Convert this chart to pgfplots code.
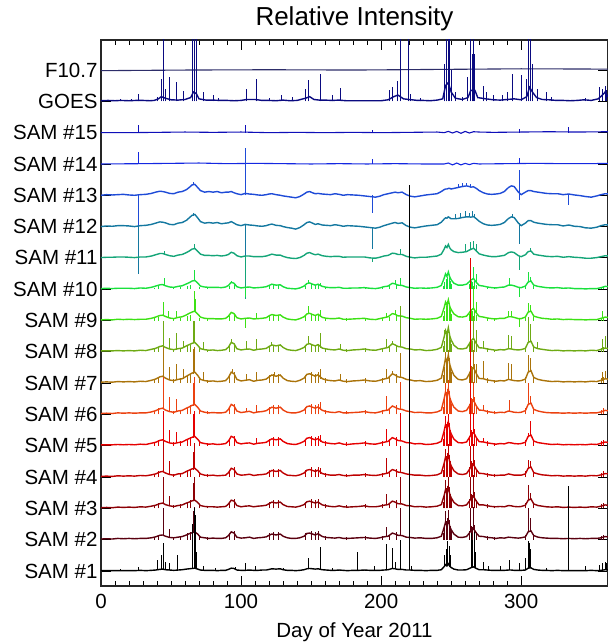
\documentclass[border=0pt]{standalone}
\usepackage{pgfplots}
\pgfplotsset{compat=1.18}
\usepackage{pgfplotstable}
\usepackage{fontspec}
\setmainfont{Liberation Sans}
\definecolor{cF}{RGB}{45,45,105}
\definecolor{cG}{RGB}{10,10,128}
\definecolor{c15}{RGB}{15,15,185}
\definecolor{c14}{RGB}{20,40,225}
\definecolor{c13}{RGB}{30,75,215}
\definecolor{c12}{RGB}{20,120,160}
\definecolor{c11}{RGB}{20,165,120}
\definecolor{c10}{RGB}{25,225,60}
\definecolor{c9}{RGB}{60,225,20}
\definecolor{c8}{RGB}{110,170,20}
\definecolor{c7}{RGB}{170,115,10}
\definecolor{c6}{RGB}{235,65,15}
\definecolor{c5}{RGB}{230,0,0}
\definecolor{c4}{RGB}{190,0,0}
\definecolor{c3}{RGB}{140,0,5}
\definecolor{c2}{RGB}{90,0,15}
\definecolor{c1}{RGB}{0,0,0}
\newcommand{\spk}[2]{\addplot[draw=none, mark=none, forget plot, error bars/.cd, y dir=plus, y explicit, error mark=none, error bar style={draw=#1, line width=1pt, solid}] coordinates {#2};}
\newcommand{\dip}[2]{\addplot[draw=none, mark=none, forget plot, error bars/.cd, y dir=minus, y explicit, error mark=none, error bar style={draw=#1, line width=1pt, solid}] coordinates {#2};}
\newcommand{\exs}[3]{\addplot[draw=none, mark=none, forget plot, error bars/.cd, y dir=plus, y explicit, error mark=none, error bar style={draw=#1, line width=1pt, solid}] table[x=d, y expr=#2, y error=#3] {\ex};}
\pgfplotstableread{
d h10 h9 h8 h7 h6 h5 h4 h3 h2
38 .05 .07 .08 .12 .11 .11 .11 .10 .10
41 .09 .12 .14 .20 .19 .18 .18 .17 .16
52 .05 .07 .08 .12 .11 .11 .11 .10 .10
57 .07 .09 .11 .15 .14 .14 .14 .13 .12
62 .11 .15 .18 .25 .24 .23 .23 .21 .20
64 .14 .18 .21 .30 .29 .27 .27 .26 .24
70 .07 .09 .11 .15 .14 .14 .14 .13 .12
76 .05 .06 .07 .10 .10 .09 .09 .09 .08
92 .11 .15 .18 .25 .24 .23 .23 .21 .20
95 .16 .21 .25 .35 .33 .32 .32 .30 .28
120 .11 .15 .18 .25 .24 .23 .23 .21 .20
123 .14 .18 .21 .30 .29 .27 .27 .26 .24
127 .14 .18 .21 .30 .29 .27 .27 .26 .24
146 .11 .15 .18 .25 .24 .23 .23 .21 .20
150 .16 .21 .25 .35 .33 .32 .32 .30 .28
153 .14 .18 .21 .30 .29 .27 .27 .26 .24
155 .16 .21 .25 .35 .33 .32 .32 .30 .28
160 .07 .09 .11 .15 .14 .14 .14 .13 .12
175 .05 .07 .08 .12 .11 .11 .11 .10 .10
189 .07 .09 .11 .15 .14 .14 .14 .13 .12
201 .07 .09 .11 .15 .14 .14 .14 .13 .12
206 .09 .12 .14 .20 .19 .18 .18 .17 .16
211 .14 .18 .21 .30 .29 .27 .27 .26 .24
244.5 .11 .15 .18 .25 .24 .23 .23 .21 .20
245.5 .23 .30 .35 .50 .48 .45 .45 .43 .40
246.5 .34 .45 .53 .75 .71 .68 .68 .64 .60
247.5 .38 .51 .60 .85 .81 .77 .77 .72 .68
248.5 .36 .48 .56 .80 .76 .72 .72 .68 .64
249.5 .25 .33 .39 .55 .52 .50 .50 .47 .44
250.5 .16 .21 .25 .35 .33 .32 .32 .30 .28
263 .16 .21 .25 .35 .33 .32 .32 .30 .28
264.5 .25 .33 .39 .55 .52 .50 .50 .47 .44
265 .23 .30 .35 .50 .48 .45 .45 .43 .40
266.5 .27 .36 .42 .60 .57 .54 .54 .51 .48
267 .20 .27 .32 .45 .43 .41 .41 .38 .36
268 .14 .18 .21 .30 .29 .27 .27 .26 .24
276 .07 .09 .11 .15 .14 .14 .14 .13 .12
281 .05 .06 .07 .10 .10 .09 .09 .09 .08
303 .09 .12 .14 .20 .19 .18 .18 .17 .16
309 .09 .12 .14 .20 .19 .18 .18 .17 .16
357 .07 .09 .11 .15 .14 .14 .14 .13 .12
359 .09 .12 .14 .20 .19 .18 .18 .17 .16
}\ex
\pgfplotstableread{
d s13 s12 s11 s10 s9 s8 s7 s6 s5 s4 s3 s2 s1
0 0 .00 .01 .02 .02 .03 .03 .03 .03 .02 .02 .02 .01
4 .02 .02 .02 .03 .03 .03 .04 .04 .03 .03 .03 .03 .01
8 .01 .01 .02 .02 .02 .03 .03 .03 .03 .02 .02 .02 .01
12 .02 .03 .03 .03 .04 .04 .05 .05 .04 .04 .04 .04 .01
16 .03 .03 .03 .03 .03 .03 .04 .04 .03 .03 .03 .03 .01
20 .01 .02 .02 .03 .04 .04 .05 .05 .04 .04 .04 .04 .01
24 0 .00 .01 .02 .03 .03 .04 .04 .03 .03 .03 .03 .01
28 .02 .03 .03 .04 .04 .05 .06 .05 .05 .05 .05 .04 .02
32 .03 .04 .03 .03 .04 .04 .05 .05 .04 .04 .04 .04 .01
36 .06 .07 .06 .06 .07 .08 .09 .08 .08 .07 .07 .06 .02
39 .10 .11 .10 .10 .11 .11 .13 .12 .11 .10 .10 .09 .03
42 .13 .15 .14 .14 .16 .17 .20 .18 .17 .16 .15 .14 .05
44 .12 .14 .14 .15 .17 .19 .22 .20 .19 .18 .17 .15 .06
46 .10 .12 .11 .11 .13 .14 .16 .14 .14 .13 .12 .11 .04
49 .06 .07 .07 .07 .08 .09 .10 .09 .09 .08 .08 .07 .03
52 .05 .06 .05 .06 .06 .07 .08 .07 .07 .06 .06 .06 .02
55 .10 .11 .09 .09 .10 .10 .12 .11 .10 .10 .09 .08 .03
58 .12 .13 .11 .11 .12 .12 .14 .13 .12 .11 .11 .10 .04
61 .18 .20 .17 .17 .18 .19 .22 .20 .19 .18 .17 .15 .06
63 .25 .28 .22 .21 .23 .23 .27 .24 .23 .22 .20 .19 .07
65 .33 .36 .28 .26 .27 .27 .32 .29 .27 .26 .24 .22 .08
67 .35 .39 .30 .28 .30 .30 .35 .32 .30 .28 .26 .25 .09
69 .25 .28 .21 .20 .21 .21 .25 .23 .21 .20 .19 .18 .06
71 .15 .16 .12 .10 .11 .10 .12 .11 .10 .10 .09 .08 .03
74 .10 .11 .08 .07 .07 .07 .08 .07 .07 .06 .06 .06 .02
77 .12 .13 .08 .06 .06 .05 .06 .05 .05 .05 .05 .04 .02
80 .10 .11 .07 .06 .06 .06 .07 .06 .06 .06 .05 .05 .02
83 .12 .13 .08 .06 .05 .04 .05 .05 .04 .04 .04 .04 .01
86 .08 .09 .06 .05 .05 .05 .06 .05 .05 .05 .05 .04 .02
89 .10 .11 .08 .07 .07 .07 .08 .07 .07 .06 .06 .06 .02
91 .10 .12 .11 .12 .14 .15 .18 .16 .15 .14 .14 .13 .05
93 .12 .16 .18 .22 .26 .30 .35 .32 .30 .28 .26 .25 .09
95 .08 .11 .15 .19 .22 .26 .30 .27 .26 .24 .23 .21 .08
97 .05 .06 .07 .08 .09 .10 .12 .11 .10 .10 .09 .08 .03
100 .02 .03 .03 .04 .05 .06 .07 .06 .06 .06 .05 .05 .02
103 .06 .07 .06 .06 .07 .08 .09 .08 .08 .07 .07 .06 .02
106 .04 .05 .06 .07 .08 .09 .11 .10 .09 .09 .08 .08 .03
109 .03 .04 .04 .04 .05 .05 .06 .05 .05 .05 .05 .04 .02
112 .01 .02 .04 .05 .06 .08 .09 .08 .08 .07 .07 .06 .02
115 0 .01 .04 .06 .07 .09 .10 .09 .09 .08 .08 .07 .03
118 .02 .03 .06 .08 .09 .11 .13 .12 .11 .10 .10 .09 .03
120 .04 .06 .09 .12 .15 .17 .20 .18 .17 .16 .15 .14 .05
122 .05 .08 .12 .16 .19 .22 .26 .23 .22 .21 .20 .18 .07
125 .02 .04 .09 .13 .16 .19 .22 .20 .19 .18 .17 .15 .06
128 0 .03 .09 .14 .18 .22 .26 .23 .22 .21 .20 .18 .07
130 -.02 0 .05 .08 .11 .14 .16 .14 .14 .13 .12 .11 .04
133 -.04 -.03 .01 .03 .05 .07 .08 .07 .07 .06 .06 .06 .02
136 -.06 -.05 -.01 .02 .03 .05 .06 .05 .05 .05 .05 .04 .02
139 -.08 -.08 -.02 .01 .02 .04 .05 .05 .04 .04 .04 .04 .01
142 -.04 -.03 .01 .04 .06 .08 .09 .08 .08 .07 .07 .06 .02
145 .04 .06 .08 .10 .12 .14 .16 .14 .14 .13 .12 .11 .04
147 .10 .13 .15 .18 .21 .24 .28 .25 .24 .22 .21 .20 .07
149 .12 .15 .17 .20 .23 .26 .30 .27 .26 .24 .23 .21 .08
151 .08 .11 .13 .16 .19 .22 .26 .23 .22 .21 .20 .18 .07
153 .05 .07 .10 .13 .16 .19 .22 .20 .19 .18 .17 .15 .06
155 .06 .09 .12 .16 .20 .23 .27 .24 .23 .22 .20 .19 .07
158 .04 .05 .07 .09 .10 .12 .14 .13 .12 .11 .11 .10 .04
161 .03 .04 .05 .06 .07 .09 .10 .09 .09 .08 .08 .07 .03
164 .02 .03 .04 .05 .06 .07 .08 .07 .07 .06 .06 .06 .02
167 .05 .06 .05 .05 .06 .06 .07 .06 .06 .06 .05 .05 .02
170 .03 .04 .05 .06 .08 .09 .10 .09 .09 .08 .08 .07 .03
173 0 .01 .02 .03 .04 .05 .06 .05 .05 .05 .05 .04 .02
176 .02 .03 .03 .03 .04 .04 .05 .05 .04 .04 .04 .04 .01
180 .01 .02 .03 .04 .05 .06 .07 .06 .06 .06 .05 .05 .02
184 0 .01 .03 .04 .06 .07 .08 .07 .07 .06 .06 .06 .02
188 -.02 -.01 .03 .05 .07 .09 .10 .09 .09 .08 .08 .07 .03
192 -.04 -.03 .00 .03 .04 .06 .07 .06 .06 .06 .05 .05 .02
196 -.06 -.05 -.01 .02 .03 .05 .06 .05 .05 .05 .05 .04 .02
199 -.03 -.02 .02 .04 .06 .08 .09 .08 .08 .07 .07 .06 .02
202 .02 .03 .06 .08 .09 .11 .13 .12 .11 .10 .10 .09 .03
205 .05 .07 .08 .10 .12 .14 .16 .14 .14 .13 .12 .11 .04
208 .08 .11 .15 .19 .22 .26 .30 .27 .26 .24 .23 .21 .08
210 .10 .13 .14 .17 .20 .22 .26 .23 .22 .21 .20 .18 .07
212 .08 .10 .11 .13 .15 .17 .20 .18 .17 .16 .15 .14 .05
215 .10 .12 .11 .12 .14 .15 .18 .16 .15 .14 .14 .13 .05
218 .02 .03 .05 .07 .09 .10 .12 .11 .10 .10 .09 .08 .03
221 -.03 -.02 .02 .05 .07 .09 .10 .09 .09 .08 .08 .07 .03
224 -.05 -.04 .00 .03 .04 .06 .07 .06 .06 .06 .05 .05 .02
228 -.02 -.01 .02 .04 .05 .07 .08 .07 .07 .06 .06 .06 .02
232 .01 .02 .02 .03 .04 .04 .05 .05 .04 .04 .04 .04 .01
236 .03 .04 .04 .04 .05 .05 .06 .05 .05 .05 .05 .04 .02
240 .05 .06 .06 .06 .07 .08 .09 .08 .08 .07 .07 .06 .02
243 .12 .14 .12 .12 .13 .14 .16 .14 .14 .13 .12 .11 .04
245 .18 .24 .28 .35 .41 .47 .55 .50 .47 .44 .41 .39 .14
246 .20 .28 .38 .49 .59 .68 .80 .72 .68 .64 .60 .56 .20
247 .20 .27 .33 .41 .49 .55 .65 .59 .55 .52 .49 .46 .16
248 .22 .31 .43 .55 .66 .77 .90 .81 .77 .72 .68 .63 .23
249 .22 .28 .32 .39 .45 .51 .60 .54 .51 .48 .45 .42 .15
250 .20 .25 .26 .30 .35 .38 .45 .41 .38 .36 .34 .32 .11
252 .22 .25 .20 .19 .21 .21 .25 .23 .21 .20 .19 .18 .06
255 .25 .26 .17 .13 .12 .10 .12 .11 .10 .10 .09 .08 .03
258 .28 .29 .18 .13 .11 .09 .10 .09 .09 .08 .08 .07 .03
261 .30 .31 .20 .16 .14 .12 .14 .13 .12 .11 .11 .10 .04
263 .28 .31 .25 .24 .25 .26 .30 .27 .26 .24 .23 .21 .08
264 .26 .30 .27 .29 .32 .34 .40 .36 .34 .32 .30 .28 .10
266 .27 .32 .31 .34 .39 .43 .50 .45 .43 .40 .38 .35 .13
268 .22 .25 .22 .22 .24 .26 .30 .27 .26 .24 .23 .21 .08
270 .15 .17 .13 .12 .13 .13 .15 .14 .13 .12 .11 .11 .04
273 .08 .09 .09 .10 .11 .12 .14 .13 .12 .11 .11 .10 .04
276 .04 .05 .06 .07 .08 .09 .10 .09 .09 .08 .08 .07 .03
279 .03 .04 .04 .05 .06 .07 .08 .07 .07 .06 .06 .06 .02
282 .04 .05 .04 .04 .05 .05 .06 .05 .05 .05 .05 .04 .02
285 .06 .07 .06 .06 .07 .07 .08 .07 .07 .06 .06 .06 .02
288 .12 .13 .08 .07 .07 .06 .07 .06 .06 .06 .05 .05 .02
291 .25 .26 .17 .13 .12 .10 .12 .11 .10 .10 .09 .08 .03
293 .30 .31 .19 .13 .12 .09 .10 .09 .09 .08 .08 .07 .03
295 .28 .29 .17 .11 .10 .07 .08 .07 .07 .06 .06 .06 .02
298 .10 .11 .07 .06 .06 .06 .07 .06 .06 .06 .05 .05 .02
300 .02 .03 .04 .05 .06 .07 .08 .07 .07 .06 .06 .06 .02
303 .10 .11 .10 .10 .11 .11 .13 .12 .11 .10 .10 .09 .03
305 .15 .19 .20 .23 .27 .30 .35 .32 .30 .28 .26 .25 .09
307 .15 .19 .22 .26 .30 .34 .40 .36 .34 .32 .30 .28 .10
309 .12 .14 .12 .13 .14 .15 .18 .16 .15 .14 .14 .13 .05
312 .10 .11 .09 .09 .10 .10 .12 .11 .10 .10 .09 .08 .03
315 .08 .09 .07 .07 .07 .08 .09 .08 .08 .07 .07 .06 .02
318 .06 .07 .05 .05 .06 .06 .07 .06 .06 .06 .05 .05 .02
322 .05 .06 .04 .04 .04 .04 .05 .05 .04 .04 .04 .04 .01
326 .05 .06 .05 .05 .05 .05 .06 .05 .05 .05 .05 .04 .02
330 .02 .02 .02 .03 .03 .03 .04 .04 .03 .03 .03 .03 .01
334 .04 .05 .04 .04 .04 .04 .05 .05 .04 .04 .04 .04 .01
338 .01 .01 .02 .02 .03 .03 .04 .04 .03 .03 .03 .03 .01
342 -.01 .00 .01 .02 .03 .04 .05 .05 .04 .04 .04 .04 .01
346 -.04 -.04 -.01 .01 .02 .03 .04 .04 .03 .03 .03 .03 .01
350 -.06 -.05 -.01 .02 .03 .05 .06 .05 .05 .05 .05 .04 .02
354 -.02 -.02 .01 .02 .03 .04 .05 .05 .04 .04 .04 .04 .01
357 .02 .03 .04 .05 .07 .08 .09 .08 .08 .07 .07 .06 .02
360 .05 .06 .07 .09 .11 .12 .14 .13 .12 .11 .11 .10 .04
363 .04 .05 .06 .08 .09 .10 .12 .11 .10 .10 .09 .08 .03
}\bg
\begin{document}
\begin{tikzpicture}
\begin{axis}[
  scale only axis, width=507pt, height=546pt,
  xmin=0, xmax=362, ymin=0.52, ymax=17.96,
  xtick={0,100,200,300}, minor x tick num=9,
  ytick={1,...,17},
  yticklabels={SAM \#1,SAM \#2,SAM \#3,SAM \#4,SAM \#5,SAM \#6,SAM \#7,SAM \#8,SAM \#9,SAM \#10,SAM \#11,SAM \#12,SAM \#13,SAM \#14,SAM \#15,GOES,F10.7},
  tick align=inside, major tick length=10pt, minor tick length=5pt,
  tick style={black, line width=0.9pt},
  axis line style={line width=1.2pt, black!85},
  /pgf/number format/assume math mode=true,
  tick label style={font=\fontsize{20.5}{24}\selectfont},
  xticklabel style={yshift=-5pt},
  label style={font=\fontsize{20.5}{24}\selectfont},
  xlabel style={yshift=-7pt},
  title style={font=\fontsize{26}{30}\selectfont},
  title={Relative Intensity},
  xlabel={Day of Year 2011},
  every axis plot/.append style={line width=1.4pt},
  clip=true,
]
\coordinate (ll) at (rel axis cs:0,0);
% F10.7
\addplot[cF, line width=1.1pt] coordinates {(0,16.98)(60,17)(120,17.01)(180,17)(240,17.02)(300,17.04)(362,17.03)};
% GOES
\addplot[cG] coordinates {(0,16.02)(5,16.03)(10,16.02)(14,16.03)(20,16.02)(25,16.03)(30,16.03)(35,16.02)(38,16.03)(41,16.08)(43,16.15)(46,16.1)(50,16.05)(55,16.04)(60,16.06)(64,16.12)(66,16.3)(68,16.25)(70,16.08)(75,16.04)(80,16.04)(85,16.03)(90,16.03)(95,16.02)(100,16.03)(104,16.06)(110,16.06)(115,16.03)(120,16.03)(125,16.02)(130,16.04)(135,16.02)(140,16.03)(146,16.1)(149,16.15)(152,16.06)(156,16.04)(160,16.04)(165,16.03)(170,16.04)(175,16.02)(180,16.02)(185,16.02)(190,16.02)(195,16.02)(200,16.02)(205,16.05)(209,16.15)(212,16.2)(216,16.08)(222,16.05)(226,16.03)(230,16.03)(235,16.02)(240,16.04)(244,16.08)(246,16.5)(248,16.6)(250,16.3)(253,16.1)(258,16.06)(262,16.12)(264,16.35)(267,16.35)(269,16.12)(272,16.1)(275,16.08)(280,16.05)(285,16.04)(290,16.06)(295,16.08)(300,16.05)(304,16.15)(306,16.45)(308,16.3)(311,16.12)(315,16.06)(320,16.05)(325,16.03)(330,16.03)(335,16.02)(340,16.03)(345,16.05)(350,16.03)(355,16.08)(358,16.2)(360,16.3)(362,16.15)};
\spk{cG}{(14,16)+-(0,.08)(22,16)+-(0,.07)(27,16)+-(0,.25)(40,16)+-(0,.15)(43,16)+-(0,.7)(44.5,16)+-(0,3)(46,16)+-(0,.4)(48.6,16)+-(0,.78)(54,16)+-(0,.62)(59,16)+-(0,.32)(65.5,16)+-(0,3)(67,16)+-(0,3)(68,16)+-(0,3)(73,16)+-(0,.3)(80,16)+-(0,.2)(84,16)+-(0,.12)(104,16)+-(0,.4)(111,16)+-(0,.7)(120,16)+-(0,.12)(129,16)+-(0,.2)(137,16)+-(0,.15)(146,16)+-(0,.4)(148,16)+-(0,.67)(157,16)+-(0,.88)(165,16)+-(0,.2)(171,16)+-(0,.44)(206,16)+-(0,.35)(208,16)+-(0,.45)(212,16)+-(0,.65)(214,16)+-(0,3)(219.5,16)+-(0,3)(221,16)+-(0,.25)(228,16)+-(0,.12)(245.5,16)+-(0,1.2)(247,16)+-(0,3)(248,16)+-(0,3)(249,16)+-(0,3)(250,16)+-(0,1)(253,16)+-(0,.3)(258,16)+-(0,.15)(262,16)+-(0,.78)(264,16)+-(0,3)(265,16)+-(0,1.5)(266,16)+-(0,3)(267,16)+-(0,1.5)(273,16)+-(0,.5)(275,16)+-(0,.3)(280,16)+-(0,.2)(287,16)+-(0,.2)(290,16)+-(0,.3)(294,16)+-(0,.88)(300,16)+-(0,.83)(304,16)+-(0,.7)(305,16)+-(0,3)(306.5,16)+-(0,3)(308,16)+-(0,1.2)(312,16)+-(0,.4)(318,16)+-(0,.3)(322,16)+-(0,.15)(346,16)+-(0,.1)(356,16)+-(0,.45)(358,16)+-(0,.4)(360,16)+-(0,.5)(361,16)+-(0,.35)}
% SAM 15
\addplot[c15, line width=1.1pt] coordinates {(0,15)(20,15)(40,15.01)(60,15.02)(80,15.01)(100,15.02)(120,15)(140,15.01)(160,15)(180,15.01)(200,15)(220,15.01)(240,15.02)(245,15)(248,15.04)(251,14.99)(254,15.04)(257,14.98)(260,15.04)(263,14.99)(266,15.03)(270,15.02)(280,15.01)(300,15.02)(320,15.03)(340,15.02)(362,15.03)};
\spk{c15}{(27,15)+-(0,.26)(103,15)+-(0,.25)(193.5,15)+-(0,.1)(298.5,15)+-(0,.12)(334,15)+-(0,.18)}
% SAM 14
\addplot[c14, line width=1.1pt] coordinates {(0,14)(30,14.01)(50,14.02)(70,14.03)(90,14.01)(110,14.02)(130,14.01)(150,14)(170,14.01)(190,14)(210,14.01)(230,14)(245,14)(248,14.03)(251,13.97)(254,14.03)(257,13.97)(260,14.02)(263,13.98)(266,14.02)(270,14)(290,14.01)(310,14.02)(330,14.01)(350,14.01)(362,14.02)};
\spk{c14}{(27,14)+-(0,.38)(103,14)+-(0,.5)(193.5,14)+-(0,.15)(298.5,14)+-(0,.18)}
% SAM 13
\addplot[c13] table[x=d, y expr=\thisrow{s13}+13] {\bg};
\spk{c13}{(103,13)+-(0,1.5)(298.5,13.1)+-(0,.7)(255,13.25)+-(0,.12)(258,13.28)+-(0,.12)(261,13.3)+-(0,.1)(264,13.26)+-(0,.1)(66,13.35)+-(0,.08)}
\dip{c13}{(27,13)+-(0,1.25)(193.5,13)+-(0,.55)(334,13.04)+-(0,.35)(298.5,13.1)+-(0,.25)}
% SAM 12
\addplot[c12] table[x=d, y expr=\thisrow{s12}+12] {\bg};
\spk{c12}{(66,12.35)+-(0,.1)(253,12.25)+-(0,.15)(257,12.28)+-(0,.17)(260,12.3)+-(0,.2)(263,12.31)+-(0,.14)(265,12.31)+-(0,.19)(267,12.28)+-(0,.12)(294,12.3)+-(0,.1)}
\dip{c12}{(27,12)+-(0,1.5)(103,12.06)+-(0,1.06)(193.5,11.97)+-(0,.7)(298.5,12.1)+-(0,.65)}
% SAM 11
\addplot[c11] table[x=d, y expr=\thisrow{s11}+11] {\bg};
\spk{c11}{(45,11.14)+-(0,.08)(66.5,11.3)+-(0,.15)(148,11.15)+-(0,.05)(214,11.1)+-(0,.2)(260,11.2)+-(0,.25)(264,11.27)+-(0,.23)(266,11.31)+-(0,.24)(268,11.22)+-(0,.23)(307,11.22)+-(0,.1)}
\dip{c11}{(103,11.06)+-(0,1.36)(298.5,11.07)+-(0,.45)(193.5,11)+-(0,.12)}
% SAM 10
\addplot[c10] table[x=d, y expr=\thisrow{s10}+10] {\bg};
\exs{c10}{10}{h10}
\spk{c10}{(45,10.15)+-(0,.2)(66.5,10.28)+-(0,.32)(93,10.22)+-(0,.05)(148,10.2)+-(0,.08)(157,10.1)+-(0,.1)(210,10.17)+-(0,.13)(214,10.12)+-(0,.23)(220,10.05)+-(0,.25)(264,10.29)+-(0,.46)(266,10.34)+-(0,.36)(268,10.22)+-(0,.28)(292,10.13)+-(0,.22)(305,10.23)+-(0,.32)(307,10.26)+-(0,.14)}
\dip{c10}{(103,10.06)+-(0,.31)(298.5,10.06)+-(0,.31)}
% SAM 9
\addplot[c9] table[x=d, y expr=\thisrow{s9}+9] {\bg};
\exs{c9}{9}{h9}
\spk{c9}{(44.5,9.17)+-(0,.43)(48,9.1)+-(0,.2)(54,9.07)+-(0,.23)(66.5,9.3)+-(0,.65)(67.5,9.28)+-(0,.42)(111,9.06)+-(0,.19)(148,9.22)+-(0,.23)(157,9.12)+-(0,.23)(203.6,9.1)+-(0,.15)(210,9.2)+-(0,.15)(214,9.15)+-(0,.3)(220,9.08)+-(0,.27)(264,9.32)+-(0,.68)(266,9.39)+-(0,.71)(268,9.24)+-(0,.36)(291,9.12)+-(0,.18)(293,9.12)+-(0,.18)(305,9.27)+-(0,.28)(307,9.3)+-(0,.2)(358,9.08)+-(0,.22)}
\dip{c9}{(103,9.07)+-(0,.32)(298.5,9.06)+-(0,.26)}
% SAM 8
\addplot[c8] table[x=d, y expr=\thisrow{s8}+8] {\bg};
\exs{c8}{8}{h8}
\spk{c8}{(44.5,8.19)+-(0,.81)(48.6,8.09)+-(0,.36)(54,8.07)+-(0,.53)(59,8.12)+-(0,.23)(66,8.27)+-(0,.73)(67,8.3)+-(0,.7)(73,8.07)+-(0,.23)(93,8.3)+-(0,.1)(104,8.08)+-(0,.27)(111,8.06)+-(0,.34)(122,8.22)+-(0,.08)(148,8.25)+-(0,.25)(157,8.13)+-(0,.47)(171,8.09)+-(0,.16)(203.6,8.12)+-(0,.28)(208,8.26)+-(0,.09)(214,8.15)+-(0,1.3)(220,8.09)+-(0,.81)(245.5,8.5)+-(0,.2)(264,8.34)+-(0,.76)(266,8.43)+-(0,.72)(268,8.26)+-(0,.44)(273,8.12)+-(0,.23)(291,8.1)+-(0,.45)(293,8.09)+-(0,.41)(305,8.3)+-(0,.8)(307,8.34)+-(0,.56)(312,8.1)+-(0,.2)(358,8.08)+-(0,.32)(360,8.12)+-(0,.38)}
% SAM 7
\addplot[c7] table[x=d, y expr=\thisrow{s7}+7] {\bg};
\exs{c7}{7}{h7}
\spk{c7}{(44.5,7.22)+-(0,.93)(48.6,7.1)+-(0,.4)(54,7.09)+-(0,.51)(59,7.14)+-(0,.31)(66,7.3)+-(0,.8)(67,7.35)+-(0,.8)(73,7.08)+-(0,.27)(94,7.32)+-(0,.13)(104,7.09)+-(0,.21)(111,7.07)+-(0,.28)(124,7.24)+-(0,.11)(150,7.28)+-(0,.07)(157,7.14)+-(0,.31)(171,7.1)+-(0,.2)(203.6,7.14)+-(0,.31)(208,7.3)+-(0,.1)(214,7.19)+-(0,.76)(220,7.11)+-(0,.84)(246,7.8)+-(0,.2)(248,7.9)+-(0,.15)(264,7.4)+-(0,.6)(266,7.5)+-(0,.55)(268,7.3)+-(0,.3)(273,7.14)+-(0,.56)(291,7.12)+-(0,.53)(293,7.1)+-(0,.5)(305,7.35)+-(0,.55)(307,7.4)+-(0,.4)(358,7.08)+-(0,.27)(360,7.14)+-(0,.26)}
% SAM 6
\addplot[c6] table[x=d, y expr=\thisrow{s6}+6] {\bg};
\exs{c6}{6}{h6}
\spk{c6}{(44.5,6.2)+-(0,1.0)(48.6,6.09)+-(0,.46)(54,6.08)+-(0,.42)(66,6.27)+-(0,.73)(67,6.32)+-(0,.88)(104,6.08)+-(0,.12)(111,6.06)+-(0,.24)(157,6.13)+-(0,.27)(203.6,6.12)+-(0,.48)(214,6.16)+-(0,.89)(220,6.1)+-(0,.9)(246,6.72)+-(0,.28)(248,6.81)+-(0,.29)(264,6.36)+-(0,.69)(266,6.45)+-(0,.6)(273,6.13)+-(0,.17)(292,6.1)+-(0,.35)(305,6.32)+-(0,.68)(307,6.36)+-(0,.24)}
% SAM 5
\addplot[c5] table[x=d, y expr=\thisrow{s5}+5] {\bg};
\exs{c5}{5}{h5}
\spk{c5}{(44.5,5.19)+-(0,.91)(48.6,5.09)+-(0,.41)(54,5.08)+-(0,.37)(66,5.26)+-(0,.74)(67,5.3)+-(0,.8)(111,5.06)+-(0,.19)(157,5.12)+-(0,.23)(203.6,5.11)+-(0,.44)(214,5.15)+-(0,.9)(220,5.09)+-(0,.86)(246,5.68)+-(0,.27)(248,5.77)+-(0,.23)(264,5.34)+-(0,5.66)(266,5.43)+-(0,.62)(273,5.12)+-(0,.13)(305,5.3)+-(0,.1)(307,5.34)+-(0,.46)}
% SAM 4
\addplot[c4] table[x=d, y expr=\thisrow{s4}+4] {\bg};
\exs{c4}{4}{h4}
\spk{c4}{(44.5,4.18)+-(0,.97)(48.6,4.08)+-(0,.42)(66,4.24)+-(0,.56)(67,4.28)+-(0,.82)(157,4.11)+-(0,.19)(203.6,4.1)+-(0,.5)(214,4.14)+-(0,.86)(220,4.08)+-(0,.92)(246,4.64)+-(0,.26)(248,4.72)+-(0,.33)(264,4.32)+-(0,.68)(266,4.4)+-(0,.65)(305,4.28)+-(0,.27)(307,4.32)+-(0,.18)}
% SAM 3
\addplot[c3] table[x=d, y expr=\thisrow{s3}+3] {\bg};
\exs{c3}{3}{h3}
\spk{c3}{(44.5,3.17)+-(0,.83)(48.6,3.08)+-(0,.32)(66,3.22)+-(0,.58)(67,3.26)+-(0,.74)(203.6,3.1)+-(0,.35)(214,3.14)+-(0,.86)(220,3.08)+-(0,.92)(246,3.6)+-(0,.3)(248,3.68)+-(0,.32)(264,3.3)+-(0,.7)(266,3.38)+-(0,.67)(305,3.26)+-(0,.49)(307,3.3)+-(0,.2)}
% SAM 2
\addplot[c2] table[x=d, y expr=\thisrow{s2}+2] {\bg};
\exs{c2}{2}{h2}
\spk{c2}{(44.5,2.16)+-(0,.84)(48.6,2.07)+-(0,.28)(66,2.21)+-(0,.69)(67,2.25)+-(0,.8)(203.6,2.09)+-(0,.31)(214,2.13)+-(0,.87)(220,2.07)+-(0,.93)(246,2.56)+-(0,.34)(248,2.63)+-(0,.32)(264,2.28)+-(0,.72)(266,2.35)+-(0,.7)(305,2.25)+-(0,.75)(307,2.28)+-(0,.42)}
% SAM 1
\addplot[c1] table[x=d, y expr=\thisrow{s1}+1] {\bg};
\spk{c1}{(14,1.01)+-(0,.05)(27,1.02)+-(0,.1)(40,1.03)+-(0,.32)(43,1.05)+-(0,.45)(44.5,1.06)+-(0,.84)(46,1.04)+-(0,.26)(48.6,1.03)+-(0,.22)(54.7,1.02)+-(0,.48)(65.5,1.08)+-(0,1.42)(66.5,1.09)+-(0,1.91)(67.5,1.08)+-(0,1.72)(68.5,1.06)+-(0,.54)(73,1.02)+-(0,.13)(82,1.02)+-(0,.08)(96,1.06)+-(0,.06)(103,1.02)+-(0,.23)(110,1.02)+-(0,.13)(130,1.04)+-(0,.05)(148,1.08)+-(0,.32)(157,1.06)+-(0,.71)(165,1.02)+-(0,.08)(183,1.02)+-(0,.58)(195,1.02)+-(0,.13)(203.6,1.03)+-(0,.82)(208,1.08)+-(0,.65)(210,1.07)+-(0,.23)(214,1.05)+-(0,.95)(220,1.03)+-(0,12.3)(222,1.03)+-(0,.12)(245.5,1.14)+-(0,.36)(246.5,1.18)+-(0,.52)(247.5,1.2)+-(0,.75)(248.5,1.2)+-(0,.6)(249.5,1.13)+-(0,.37)(264.5,1.11)+-(0,1.09)(265.5,1.12)+-(0,.88)(266.5,1.12)+-(0,1.13)(267.5,1.09)+-(0,.51)(273,1.04)+-(0,.26)(277,1.03)+-(0,.12)(285,1.02)+-(0,.13)(291.5,1.03)+-(0,.32)(298.5,1.02)+-(0,.23)(302.8,1.03)+-(0,.37)(305,1.09)+-(0,.86)(306,1.1)+-(0,.8)(307,1.1)+-(0,.6)(318,1.02)+-(0,.08)(334,1.01)+-(0,2.69)(346,1.01)+-(0,.14)(356,1.02)+-(0,.18)(358,1.03)+-(0,.22)(360,1.04)+-(0,.26)(361,1.04)+-(0,.21)}
\end{axis}
\pgfresetboundingbox
\path[use as bounding box] ([shift={(-101pt,-57pt)}]ll) rectangle ([shift={(507pt,586pt)}]ll);
\end{tikzpicture}
\end{document}
